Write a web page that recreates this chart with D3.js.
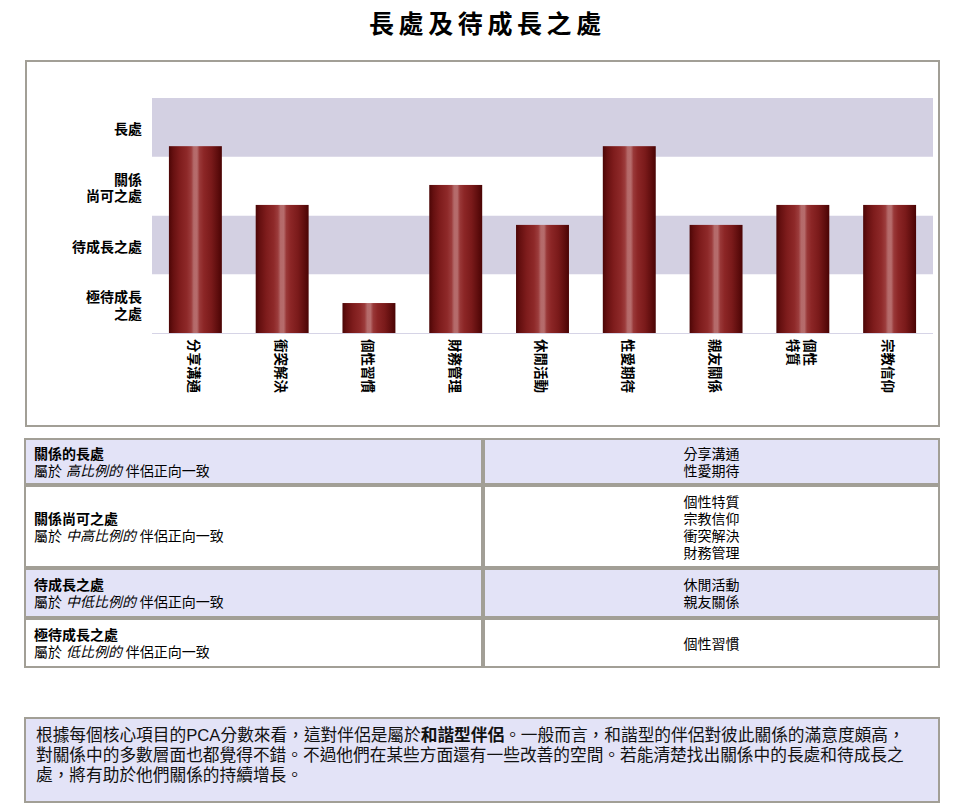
<!DOCTYPE html>
<html><head><meta charset="utf-8">
<script src="https://cdn.jsdelivr.net/npm/d3@7"></script>
<style>
html,body{margin:0;padding:0;background:#fff;}
body{position:relative;width:960px;height:812px;overflow:hidden;font-family:"Liberation Sans","Noto Sans CJK TC",sans-serif;}
svg{position:absolute;left:0;top:0;}
svg text{font-family:"Liberation Sans","Noto Sans CJK TC",sans-serif;fill:#000;}
svg text.title{font-family:"Noto Sans CJK TC",sans-serif;}
.cell{position:absolute;box-sizing:border-box;border:2px solid #a29f96;display:flex;flex-direction:column;justify-content:center;font-size:14px;line-height:17px;color:#000;padding-top:2px;}
.cell.left{padding-left:8px;}
.cell.right{text-align:center;}
.summary{position:absolute;box-sizing:border-box;left:24px;top:717px;width:916px;height:86px;border:2px solid #a29f96;background:#e3e3f7;padding:6.5px 0 0 10px;font-size:16.7px;line-height:20px;color:#111;white-space:nowrap;}
</style></head>
<body><svg id="c" width="960" height="812"></svg>
<script>
// ---- data ----
const title = "長處及待成長之處";
const categories = ["分享溝通","衝突解決","個性習慣","財務管理","休閒活動","性愛期待","親友關係","個性特質","宗教信仰"];
const xTickLabels = [["分享溝通"],["衝突解決"],["個性習慣"],["財務管理"],["休閒活動"],["性愛期待"],["親友關係"],["個性","特質"],["宗教信仰"]];
const scores = [3.18, 2.18, 0.51, 2.52, 1.84, 3.18, 1.84, 2.18, 2.18];
const yTickValues = [0.5, 1.5, 2.5, 3.5];
const yTickLabels = [["極待成長","之處"],["待成長之處"],["關係","尚可之處"],["長處"]];
const bandLevels = [0, 1, 2, 3];
const tableTitles = ["關係的長處","關係尚可之處","待成長之處","極待成長之處"];
const tableRatios = ["高比例的","中高比例的","中低比例的","低比例的"];
const tableItems = [["分享溝通","性愛期待"],["個性特質","宗教信仰","衝突解決","財務管理"],["休閒活動","親友關係"],["個性習慣"]];
const summaryLines = [
  [["根據每個核心項目的PCA分數來看，這對伴侶是屬於",false],["和諧型伴侶",true],["。一般而言，和諧型的伴侶對彼此關係的滿意度頗高，",false]],
  [["對關係中的多數層面也都覺得不錯。不過他們在某些方面還有一些改善的空間。若能清楚找出關係中的長處和待成長之",false]],
  [["處，將有助於他們關係的持續增長。",false]]
];

const svg = d3.select("#c");
const borderCol = "#a29f96";
const shade = "#e3e3f7";

// title
svg.append("text").attr("class","title").attr("x", 369).attr("y", 22).attr("dominant-baseline","central")
  .style("font-size","25px").style("font-weight","700").style("letter-spacing","4.6px")
  .text(title);

// chart panel
svg.append("rect").attr("x",26).attr("y",61).attr("width",913).attr("height",365)
  .attr("fill","#fff").attr("stroke",borderCol).attr("stroke-width",2);

const x = d3.scaleBand().domain(categories).range([152, 933]).paddingInner(0.39).paddingOuter(0.195);
const y = d3.scaleLinear().domain([0, 4]).range([333, 98]);

// bands
svg.append("g").selectAll("rect").data(bandLevels).join("rect")
  .attr("x", 152).attr("width", 933-152)
  .attr("y", d => y(d+1)).attr("height", d => y(d) - y(d+1))
  .attr("fill", d => d % 2 === 1 ? "#d3d0e2" : "#ffffff");

// baseline
svg.append("line").attr("x1",152).attr("x2",933).attr("y1",y(0)+0.5).attr("y2",y(0)+0.5)
  .attr("stroke","#d6d4e6").attr("stroke-width",1);

// gradient
const defs = svg.append("defs");
const grad = defs.append("linearGradient").attr("id","barG").attr("x1","0").attr("x2","1").attr("y1","0").attr("y2","0");
[[0,"#4c0606"],[0.08,"#661010"],[0.2,"#7e1c1c"],[0.34,"#8e2929"],[0.42,"#9c3c3c"],[0.47,"#b46a6a"],[0.53,"#b66c6c"],[0.58,"#993838"],[0.66,"#8c2626"],[0.8,"#7a1a1a"],[0.92,"#5e0d0d"],[1,"#4a0404"]]
  .forEach(s => grad.append("stop").attr("offset", s[0]).attr("stop-color", s[1]));

// bars
svg.append("g").selectAll("rect").data(categories).join("rect")
  .attr("x", d => x(d)).attr("width", x.bandwidth())
  .attr("y", (d,i) => y(scores[i])).attr("height", (d,i) => y(0) - y(scores[i]))
  .attr("fill","url(#barG)");

// y axis
const yAxis = svg.append("g").attr("transform","translate(142,0)")
  .call(d3.axisLeft(y).tickValues(yTickValues).tickSize(0).tickPadding(0).tickFormat(""));
yAxis.select(".domain").remove();
yAxis.selectAll(".tick text").each(function(d,i){
  const t = d3.select(this);
  const lines = yTickLabels[i];
  t.text(null).attr("x",0).attr("dy",null).attr("y",0)
    .attr("text-anchor","end").attr("dominant-baseline","central")
    .style("font-size","14px").style("font-weight","700").style("fill","#000");
  lines.forEach((ln,k) => {
    t.append("tspan").attr("x",0).attr("y", (k - (lines.length-1)/2) * 16.5 + 1.2).text(ln);
  });
});

// x axis
const xAxis = svg.append("g").attr("transform",`translate(0,${y(0)})`)
  .call(d3.axisBottom(x).tickSize(0).tickPadding(0).tickFormat(""));
xAxis.select(".domain").remove();
xAxis.selectAll(".tick text").each(function(d,i){
  const t = d3.select(this);
  const lines = xTickLabels[i];
  t.text(null).attr("y",0).attr("dy",null).attr("x",0)
    .attr("transform","translate(0,0) rotate(90)")
    .attr("text-anchor","start").attr("dominant-baseline","central")
    .style("font-size","13.5px").style("font-weight","700").style("fill","#000");
  lines.forEach((ln,k) => {
    t.append("tspan").attr("x",6).attr("y", (k - (lines.length-1)/2) * 16.5 + 1.2).text(ln);
  });
});

// table (HTML)
const rows = [[438,485],[485,568],[568,618],[618,668]];
const body = d3.select("body");
rows.forEach((r,i) => {
  const fill = i % 2 === 0 ? shade : "#fff";
  const lc = body.append("div").attr("class","cell left")
    .style("left","24px").style("top", r[0]+"px").style("width","459px").style("height",(r[1]-r[0])+"px")
    .style("background", fill);
  lc.append("div").style("font-weight","700").text(tableTitles[i]);
  const l2 = lc.append("div");
  l2.append("span").text("屬於 ");
  l2.append("i").text(tableRatios[i]);
  l2.append("span").text(" 伴侶正向一致");
  const rc = body.append("div").attr("class","cell right")
    .style("left","483px").style("top", r[0]+"px").style("width","457px").style("height",(r[1]-r[0])+"px")
    .style("background", fill);
  tableItems[i].forEach(it => rc.append("div").text(it));
});

// summary box
const sm = body.append("div").attr("class","summary");
summaryLines.forEach(parts => {
  const ln = sm.append("div");
  parts.forEach(p => ln.append("span").style("font-weight", p[1] ? "700" : "400").text(p[0]));
});
</script></body></html>
